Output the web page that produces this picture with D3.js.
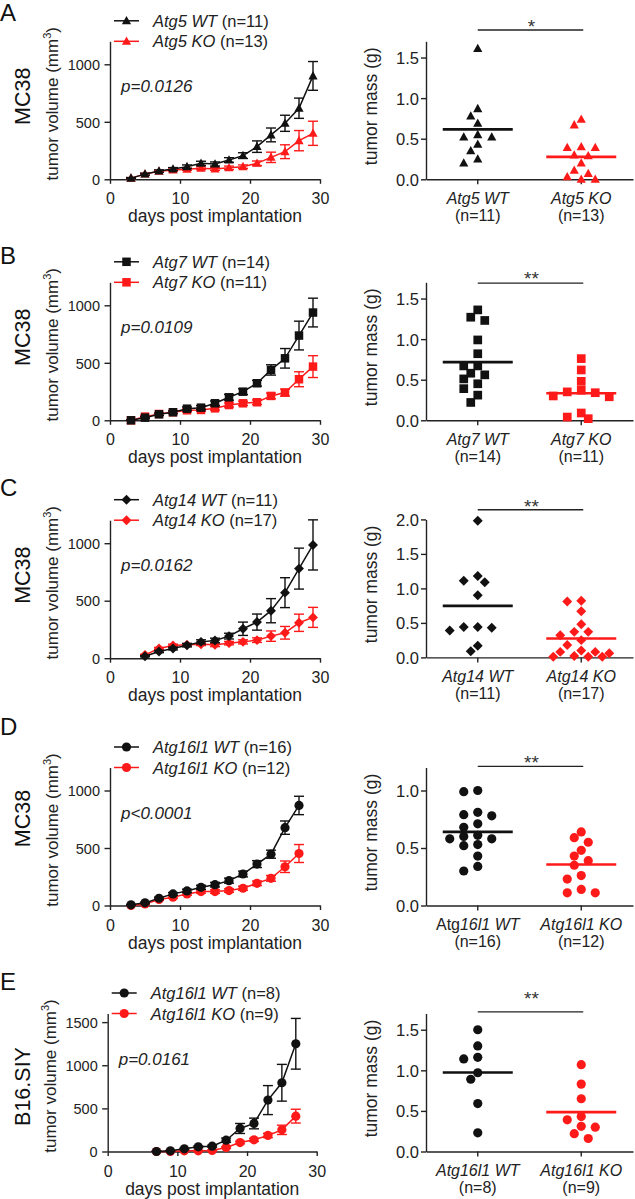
<!DOCTYPE html>
<html><head><meta charset="utf-8">
<script src="https://cdn.jsdelivr.net/npm/d3@7"></script>
<style>body{margin:0;background:#fff} svg{display:block;font-family:"Liberation Sans",Arial,Helvetica,sans-serif}</style>
</head><body><svg id="c" width="635" height="1199"></svg>
<script>
// ---------------- DATA ----------------
// Panel A: Atg5 (MC38)
const daysA = [3,5,7,9,11,13,15,17,19,21,23,25,27,29];
const wtA = [10,45,72,90,110,139,133,168,206,284,386,487,618,899];
const wtA_sem = [5,8,10,12,15,18,18,20,25,50,60,70,88,125];
const koA = [10,45,70,80,87,96,90,100,110,139,191,240,336,400];
const koA_sem = [5,8,8,10,10,12,12,15,15,20,45,60,88,105];
const massA_wt = [1.61,0.87,0.78,0.69,0.55,0.52,0.52,0.43,0.35,0.25,0.20];
const massA_ko = [0.74,0.67,0.39,0.40,0.39,0.30,0.29,0.11,0.20,0.03,0.0,0.0,0.07];

// Panel B: Atg7 (MC38)
const daysB = [3,5,7,9,11,13,15,17,19,21,23,25,27,29];
const wtB = [0,23,52,70,101,110,148,200,249,322,438,539,737,937];
const wtB_sem = [3,8,10,12,15,18,20,25,25,25,45,85,125,125];
const koB = [0,32,55,70,87,90,104,133,148,157,212,241,357,467];
const koB_sem = [3,8,10,10,12,12,15,18,18,20,25,30,65,95];
const massB_wt = [1.36,1.23,1.27,0.99,0.82,0.67,0.67,0.58,0.51,0.56,0.39,0.45,0.31,0.22];
const massB_ko = [0.76,0.62,0.48,0.35,0.30,0.29,0.34,0.37,0.09,0.02,0.04];

// Panel C: Atg14 (MC38)
const daysC = [5,7,9,11,13,15,17,19,21,23,25,27,29];
const wtC = [17,58,84,113,142,154,192,256,314,413,570,779,985];
const wtC_sem = [5,10,12,15,18,20,25,58,70,105,130,178,218];
const koC = [29,84,110,116,122,116,131,142,157,192,221,308,355];
const koC_sem = [5,10,12,12,12,15,15,18,20,45,55,75,87];
const massC_wt = [1.98,1.18,1.09,1.11,0.90,0.44,0.43,0.39,0.44,0.17,0.09];
const massC_ko = [0.82,0.81,0.67,0.48,0.37,0.32,0.37,0.25,0.18,0.08,0.06,0.01,0.01,0.01,0.02,0.08,0.10];

// Panel D: Atg16l1 (MC38)
const daysD = [3,5,7,9,11,13,15,17,19,21,23,25,27];
const wtD = [6,23,63,101,127,158,181,216,274,360,446,677,870];
const wtD_sem = [3,6,10,12,15,18,20,22,25,30,35,58,80];
const koD = [0,14,52,72,101,121,121,130,150,193,236,337,452];
const koD_sem = [3,5,8,10,12,14,15,15,18,20,25,50,78];
const massD_wt = [0.99,1.00,0.78,0.81,0.79,0.68,0.71,0.61,0.58,0.60,0.53,0.52,0.58,0.43,0.30,0.34];
const massD_ko = [0.64,0.59,0.55,0.48,0.43,0.39,0.35,0.26,0.23,0.14,0.11,0.11];

// Panel E: Atg16l1 (B16.SIY)
const daysE = [7,9,11,13,15,17,19,21,23,25,27];
const wtE = [0,8,31,54,62,131,267,325,596,797,1249];
const wtE_sem = [3,5,8,10,12,25,58,62,168,213,294];
const koE = [0,0,8,8,12,46,104,135,186,251,410];
const koE_sem = [2,3,5,5,6,10,15,18,25,54,80];
const massE_wt = [1.50,1.30,1.16,1.14,0.97,0.89,0.59,0.23];
const massE_ko = [1.07,0.83,0.65,0.43,0.39,0.30,0.31,0.22,0.16];

// Labels / ticks
const panelIds = ["A","B","C","D","E"];
const cellLines = ["MC38","MC38","MC38","MC38","B16.SIY"];
const genes = ["Atg5","Atg7","Atg14","Atg16l1","Atg16l1"];
const nWT = [11,14,11,16,8];
const nKO = [13,11,17,12,9];
const pTexts = ["p=0.0126","p=0.0109","p=0.0162","p<0.0001","p=0.0161"];
const sigTexts = ["*","**","**","**","**"];
const sigLevels = [1.84,1.69,2.14,1.21,1.72];
const volMax = [1200,1200,1200,1200,1600];
const volTicks = [[0,500,1000],[0,500,1000],[0,500,1000],[0,500,1000],[0,500,1000,1500]];
const dayTicks = [0,10,20,30];
const massMax = [1.7,1.7,2.0,1.2,1.7];
const massTicks = [[0,0.5,1,1.5],[0,0.5,1,1.5],[0,0.5,1,1.5,2],[0,0.5,1],[0,0.5,1,1.5]];
const shapes = ["triangle","square","diamond","circle","circle"];

const series = [
  {days:daysA, wt:wtA, wtS:wtA_sem, ko:koA, koS:koA_sem, mw:massA_wt, mk:massA_ko},
  {days:daysB, wt:wtB, wtS:wtB_sem, ko:koB, koS:koB_sem, mw:massB_wt, mk:massB_ko},
  {days:daysC, wt:wtC, wtS:wtC_sem, ko:koC, koS:koC_sem, mw:massC_wt, mk:massC_ko},
  {days:daysD, wt:wtD, wtS:wtD_sem, ko:koD, koS:koD_sem, mw:massD_wt, mk:massD_ko},
  {days:daysE, wt:wtE, wtS:wtE_sem, ko:koE, koS:koE_sem, mw:massE_wt, mk:massE_ko}
];

// ---------------- LAYOUT ----------------
const layout = [
  {bottom:179.3, letterY:21,  x0:110,   x1:320,   cellDy:55, starDy:3.5},
  {bottom:420.3, letterY:264, x0:110,   x1:320,   cellDy:55, starDy:1.5},
  {bottom:658.2, letterY:496, x0:110,   x1:320,   cellDy:55, starDy:3},
  {bottom:905.5, letterY:735, x0:110,   x1:320,   cellDy:51, starDy:3},
  {bottom:1151.5,letterY:990, x0:107.7, x1:316.7, cellDy:73, starDy:-7}
];
const H = 138;
const BLACK = "#111", RED = "#ff1a1a", AX = "#222";

const svg = d3.select("#c");

function shapePath(type, w){
  const r = w/2;
  if(type==="triangle"){ const h = w*0.9; return `M0,${-h*0.58}L${r},${h*0.42}L${-r},${h*0.42}Z`; }
  if(type==="square"){ return `M${-r},${-r}H${r}V${r}H${-r}Z`; }
  if(type==="diamond"){ const R = r*1.08; return `M0,${-R}L${R},0L0,${R}L${-R},0Z`; }
  return d3.symbol(d3.symbolCircle, Math.PI*r*r)();
}

// simple beeswarm: place points (largest first) at the closest free horizontal slot
function dodge(values, yScale, step, minDist, maxSlots){
  const idx = values.map((v,i)=>i).sort((a,b)=>values[b]-values[a]);
  const placed = [], off = new Array(values.length).fill(0);
  idx.forEach(i=>{
    const py = yScale(values[i]);
    let best = 0, bestD = -1, done = false;
    for(let k=0;k<=2*maxSlots;k++){
      const cand = k===0 ? 0 : (k%2 ? -Math.ceil(k/2) : Math.ceil(k/2))*step;
      const dmin = placed.length ? d3.min(placed, p=>Math.hypot(p.x-cand,p.y-py)) : Infinity;
      if(dmin >= minDist){ off[i]=cand; done = true; break; }
      if(dmin > bestD){ bestD = dmin; best = cand; }
    }
    if(!done) off[i] = best;
    placed.push({x:off[i], y:py});
  });
  return off;
}

function styleAxis(g, fs){
  g.select(".domain").attr("stroke",AX).attr("stroke-width",1.4);
  g.selectAll(".tick line").attr("stroke",AX).attr("stroke-width",1.4);
  g.selectAll(".tick text").attr("fill",AX).attr("font-size",fs);
  g.attr("font-family",null).attr("font-size",null);
}

panelIds.forEach((id, pi)=>{
  const L = layout[pi], S = series[pi];
  const top = L.bottom - H;
  const shp = shapes[pi];
  const g = svg.append("g");

  g.append("text").attr("x",0).attr("y",L.letterY).attr("font-size",24).attr("fill","#111").text(id);

  // ---- Left: growth curves ----
  const x = d3.scaleLinear().domain([0,30]).range([L.x0, L.x1]);
  const y = d3.scaleLinear().domain([0, volMax[pi]]).range([L.bottom, top]);

  const gx = g.append("g").attr("transform",`translate(0,${L.bottom})`)
    .call(d3.axisBottom(x).tickValues(dayTicks).tickFormat(d3.format("d")).tickSize(4.5).tickSizeOuter(0));
  styleAxis(gx, 16);
  gx.selectAll(".tick text").attr("dy",null).attr("y",25);

  const gy = g.append("g").attr("transform",`translate(${L.x0},0)`)
    .call(d3.axisLeft(y).tickValues(volTicks[pi]).tickFormat(d3.format("d")).tickSize(5.5).tickSizeOuter(0));
  styleAxis(gy, 14.5);
  gy.selectAll(".tick text").attr("x",-10).attr("dy","0.36em");

  g.append("text").attr("x",(L.x0+L.x1)/2).attr("y",L.bottom+43).attr("text-anchor","middle")
    .attr("font-size",17.5).attr("fill",AX).text("days post implantation");
  const yt = g.append("text").attr("transform",`translate(${L.x0-52},${top+62.5}) rotate(-90)`)
    .attr("text-anchor","middle").attr("font-size",17).attr("fill",AX);
  yt.append("tspan").text("tumor volume (mm");
  yt.append("tspan").attr("font-size",11).attr("dy",-7).text("3");
  yt.append("tspan").attr("dy",7).text(")");
  g.append("text").attr("transform",`translate(${29.5},${top+L.cellDy}) rotate(-90)`)
    .attr("text-anchor","middle").attr("font-size",21.5).attr("fill","#111").text(cellLines[pi]);

  g.append("text").attr("x",L.x0+11).attr("y",top+51).attr("font-size",17).attr("font-style","italic")
    .attr("fill",AX).text(pTexts[pi]);

  const groups = [
    {vals:S.ko, sem:S.koS, color:RED},
    {vals:S.wt, sem:S.wtS, color:BLACK}
  ];
  groups.forEach(gr=>{
    const pts = S.days.map((d,i)=>({d, v:gr.vals[i], s:gr.sem[i]}));
    const sg = g.append("g");
    pts.forEach(p=>{
      const yt1 = y(p.v + p.s), yb1 = y(Math.max(0,p.v - p.s)), xx = x(p.d);
      sg.append("line").attr("x1",xx).attr("x2",xx).attr("y1",yt1).attr("y2",yb1).attr("stroke",gr.color).attr("stroke-width",1.4);
      sg.append("line").attr("x1",xx-5).attr("x2",xx+5).attr("y1",yt1).attr("y2",yt1).attr("stroke",gr.color).attr("stroke-width",1.4);
      sg.append("line").attr("x1",xx-5).attr("x2",xx+5).attr("y1",yb1).attr("y2",yb1).attr("stroke",gr.color).attr("stroke-width",1.4);
    });
    sg.append("path").datum(pts).attr("fill","none").attr("stroke",gr.color).attr("stroke-width",1.5)
      .attr("d", d3.line().x(p=>x(p.d)).y(p=>y(p.v)));
    sg.selectAll("path.m").data(pts).enter().append("path").attr("class","m")
      .attr("transform",p=>`translate(${x(p.d)},${y(p.v)})`)
      .attr("d", shapePath(shp, shp==="square"?8.5:9.2)).attr("fill",gr.color);
  });

  const legRows = [
    {label:genes[pi]+" WT", n:nWT[pi], color:BLACK, yy:top-20.5},
    {label:genes[pi]+" KO", n:nKO[pi], color:RED, yy:top}
  ];
  const lx0 = L.x0+4, lx1 = L.x0+29, ltx = L.x0+43;
  legRows.forEach(r=>{
    g.append("line").attr("x1",lx0).attr("x2",lx1).attr("y1",r.yy).attr("y2",r.yy).attr("stroke",r.color).attr("stroke-width",1.5);
    g.append("path").attr("transform",`translate(${(lx0+lx1)/2},${r.yy})`).attr("d",shapePath(shp, shp==="square"?8.5:9.2)).attr("fill",r.color);
    const t = g.append("text").attr("x",ltx).attr("y",r.yy+6).attr("font-size",16.5).attr("fill",AX);
    t.append("tspan").attr("font-style","italic").text(r.label);
    t.append("tspan").text(` (n=${r.n})`);
  });

  // ---- Right: tumor mass ----
  const rb = L.bottom - (pi===2 ? 0.8 : 0);
  const rtop = rb - H;
  const cats = ["WT","KO"];
  const xb = d3.scaleBand().domain(cats).range([426,633]);
  const ym = d3.scaleLinear().domain([0, massMax[pi]]).range([rb, rtop]);

  const rgx = g.append("g").attr("transform",`translate(0,${rb})`)
    .call(d3.axisBottom(xb).tickSize(5).tickSizeOuter(0).tickFormat(""));
  styleAxis(rgx, 16);
  const rgy = g.append("g").attr("transform",`translate(426,0)`)
    .call(d3.axisLeft(ym).tickValues(massTicks[pi]).tickFormat(d3.format(".1f")).tickSize(5).tickSizeOuter(0));
  styleAxis(rgy, 16.5);
  rgy.selectAll(".tick text").attr("x",-7).attr("dy","0.36em");

  g.append("text").attr("transform",`translate(377,${rtop+65}) rotate(-90)`).attr("text-anchor","middle")
    .attr("font-size",17.5).attr("fill",AX).text("tumor mass (g)");

  cats.forEach((c,ci)=>{
    const cx = xb(c) + xb.bandwidth()/2;
    const t = g.append("text").attr("x",cx).attr("y",rb+24.5).attr("text-anchor","middle").attr("font-size",16).attr("fill",AX);
    if(pi===3 && c==="WT"){
      t.append("tspan").text("Atg");
      t.append("tspan").attr("font-style","italic").text("16l1 WT");
    } else {
      t.append("tspan").attr("font-style","italic").text(genes[pi]+" "+c);
    }
    g.append("text").attr("x",cx).attr("y",rb+41.5).attr("text-anchor","middle").attr("font-size",16).attr("fill",AX)
      .text(`(n=${c==="WT"?nWT[pi]:nKO[pi]})`);
  });

  [{vals:S.mw, cat:"WT", color:BLACK},{vals:S.mk, cat:"KO", color:RED}].forEach(gr=>{
    const cx = xb(gr.cat) + xb.bandwidth()/2;
    const off = dodge(gr.vals, ym, 7, 8.8, 4);
    const mean = d3.mean(gr.vals);
    g.selectAll(null).data(gr.vals).enter().append("path")
      .attr("transform",(v,i)=>`translate(${cx+off[i]},${ym(v)})`)
      .attr("d", shapePath(shp, shp==="square"?8.7:9.2)).attr("fill",gr.color);
    g.append("line").attr("x1",cx-35).attr("x2",cx+35).attr("y1",ym(mean)).attr("y2",ym(mean))
      .attr("stroke",gr.color).attr("stroke-width",2.6);
  });

  const c1 = xb("WT")+xb.bandwidth()/2, c2 = xb("KO")+xb.bandwidth()/2;
  const sy = ym(sigLevels[pi]);
  g.append("line").attr("x1",c1).attr("x2",c2+2).attr("y1",sy).attr("y2",sy).attr("stroke",AX).attr("stroke-width",1.4);
  g.append("text").attr("x",(c1+c2)/2+2).attr("y",sy+L.starDy).attr("text-anchor","middle").attr("font-size",19).attr("fill","#333")
    .text(sigTexts[pi]);
});
</script></body></html>
